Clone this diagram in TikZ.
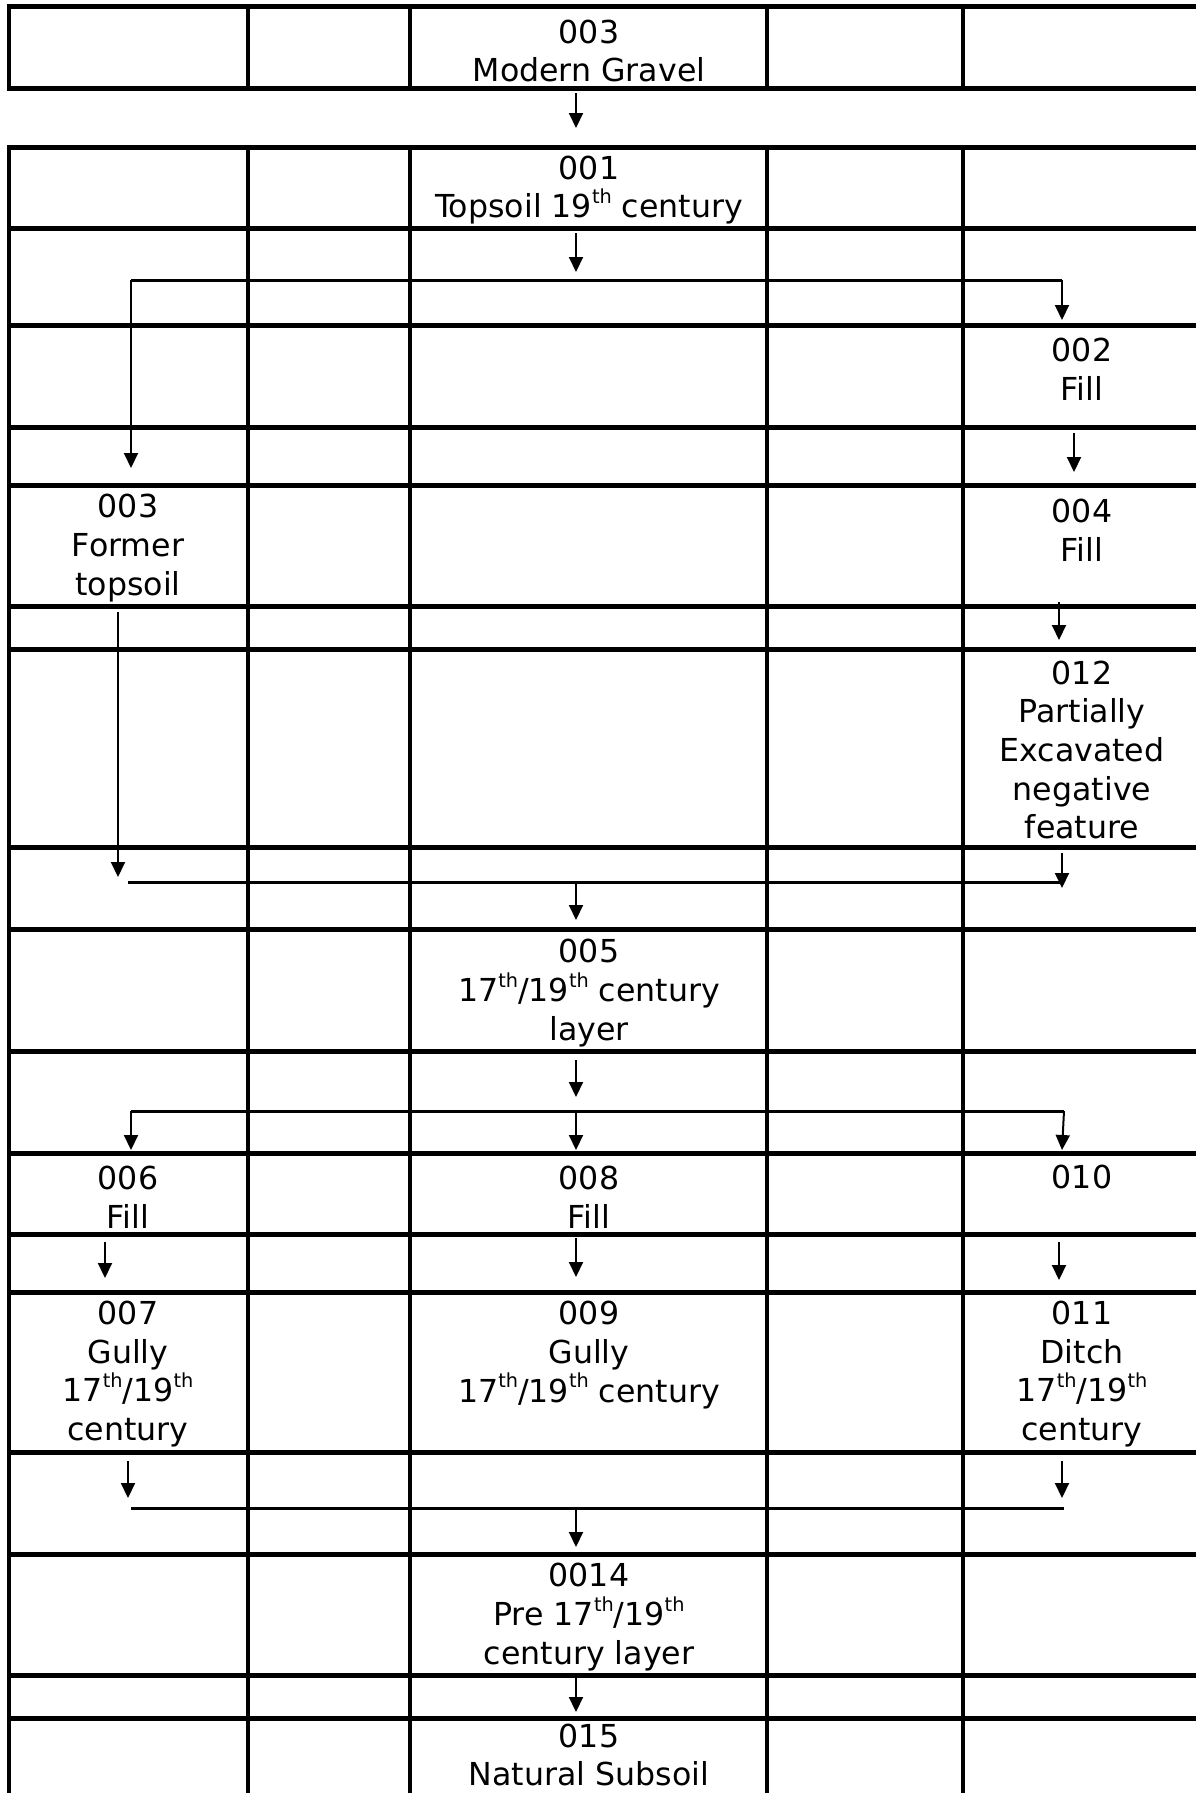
\documentclass[tikz,border=0pt]{standalone}
\usepackage{fontspec}
\setmainfont{DejaVu Sans}
\usetikzlibrary{arrows.meta}
\newcommand{\thsup}{\raisebox{0.45em}{\fontsize{11}{11}\selectfont th}}

\begin{document}
\begin{tikzpicture}[
    x=0.02cm, y=-0.02cm,
    every node/.style={font=\fontsize{18}{22}\selectfont,align=center,inner sep=0pt},
    hline/.style={line width=0.1cm},
    vline/.style={line width=0.09cm},
    bar/.style={line width=0.06cm},
    arr/.style={line width=0.04cm,-{Triangle[length=0.3cm,width=0.28cm]}}
  ]
  \useasboundingbox (0,0) rectangle (1196,1793);
  % table grid
  \foreach \y in {6,88,147,228,325,427,485,606,649,847,929,1051,1153,1234,1292,1452,1554,1675,1718}
    \draw[hline] (7,\y) -- (1210,\y);
  \foreach \x in {9,248,410,767,963} {
    \draw[vline] (\x,6) -- (\x,88);
    \draw[vline] (\x,147) -- (\x,1800);
  }
  % contexts
  \node (mg) at (589,51) {003\\Modern Gravel};
  \node (ts) at (589,190) {001\\Topsoil 19\thsup{} century};
  \node (f002) at (1082,369) {002\\Fill};
  \node (ft) at (128,548) {003\\Former\\topsoil};
  \node (f004) at (1082,530) {004\\Fill};
  \node (pe) at (1082,750) {012\\Partially\\Excavated\\negative\\feature};
  \node (l005) at (589,993) {005\\17\thsup/19\thsup{} century\\layer};
  \node (f006) at (128,1197) {006\\Fill};
  \node (f008) at (589,1197) {008\\Fill};
  \node (c010) at (1082,1177) {010};
  \node (g007) at (128,1374) {007\\Gully\\17\thsup/19\thsup\\century};
  \node (g009) at (589,1355) {009\\Gully\\17\thsup/19\thsup{} century};
  \node (d011) at (1082,1374) {011\\Ditch\\17\thsup/19\thsup\\century};
  \node (l014) at (589,1617) {0014\\Pre 17\thsup/19\thsup\\century layer};
  \node (ns) at (589,1755) {015\\Natural Subsoil};
  % link ends
  \coordinate (mgout) at (576,93);   \coordinate (tsin) at (576,128);
  \coordinate (tsout) at (576,233);  \coordinate (tsbar) at (576,272);
  \coordinate (s1l) at (131,280);    \coordinate (s1r) at (1062,280);
  \coordinate (ftin) at (131,468);   \coordinate (f002in) at (1062,320);
  \coordinate (f002out) at (1074,433); \coordinate (f004in) at (1074,472);
  \coordinate (f004out) at (1059,602); \coordinate (pein) at (1059,640);
  \coordinate (ftout) at (118,612);  \coordinate (ftbar) at (118,877);
  \coordinate (peout) at (1062,853); \coordinate (pebar) at (1062,888);
  \coordinate (m1l) at (128,882);    \coordinate (m1r) at (1060,882);
  \coordinate (m1c) at (576,882);    \coordinate (l005in) at (576,920);
  \coordinate (l005out) at (576,1060); \coordinate (l005bar) at (576,1097);
  \coordinate (s2l) at (131,1111);   \coordinate (s2c) at (576,1111);
  \coordinate (s2r) at (1064,1111);
  \coordinate (f006in) at (131,1150); \coordinate (f008in) at (576,1150);
  \coordinate (c010in) at (1062,1150);
  \coordinate (f006out) at (105,1242); \coordinate (g007in) at (105,1278);
  \coordinate (f008out) at (576,1238); \coordinate (g009in) at (576,1277);
  \coordinate (c010out) at (1059,1242); \coordinate (d011in) at (1059,1280);
  \coordinate (g007out) at (128,1461); \coordinate (g007bar) at (128,1498);
  \coordinate (d011out) at (1062,1461); \coordinate (d011bar) at (1062,1498);
  \coordinate (m2l) at (131,1508);   \coordinate (m2r) at (1064,1508);
  \coordinate (m2c) at (576,1510);   \coordinate (l014in) at (576,1547);
  \coordinate (l014out) at (576,1677); \coordinate (nsin) at (576,1712);
  % links
  \draw[arr] (mgout) -- (tsin);
  \draw[arr] (tsout) -- (tsbar);
  \draw[bar] (s1l) -- (s1r);
  \draw[arr] (s1l) -- (ftin);
  \draw[arr] (s1r) -- (f002in);
  \draw[arr] (f002out) -- (f004in);
  \draw[arr] (f004out) -- (pein);
  \draw[arr] (ftout) -- (ftbar);
  \draw[arr] (peout) -- (pebar);
  \draw[bar] (m1l) -- (m1r);
  \draw[arr] (m1c) -- (l005in);
  \draw[arr] (l005out) -- (l005bar);
  \draw[bar] (s2l) -- (s2r);
  \draw[arr] (s2l) -- (f006in);
  \draw[arr] (s2c) -- (f008in);
  \draw[arr] (s2r) -- (c010in);
  \draw[arr] (f006out) -- (g007in);
  \draw[arr] (f008out) -- (g009in);
  \draw[arr] (c010out) -- (d011in);
  \draw[arr] (g007out) -- (g007bar);
  \draw[arr] (d011out) -- (d011bar);
  \draw[bar] (m2l) -- (m2r);
  \draw[arr] (m2c) -- (l014in);
  \draw[arr] (l014out) -- (nsin);
\end{tikzpicture}
\end{document}
